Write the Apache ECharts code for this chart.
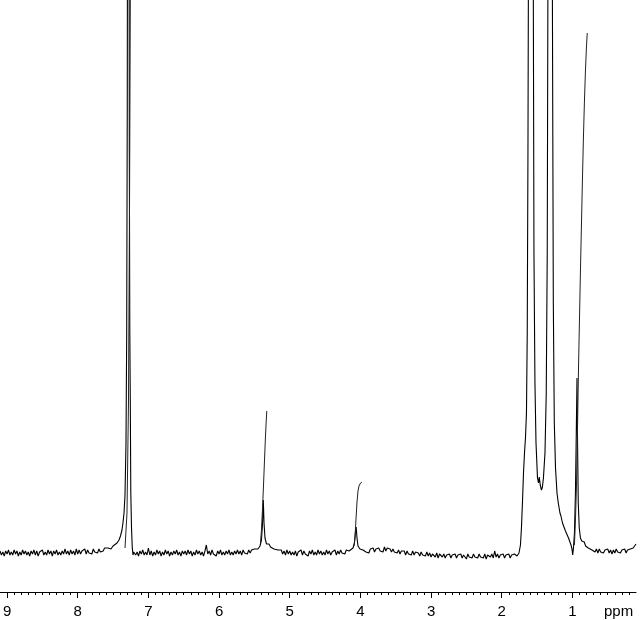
<!DOCTYPE html>
<html>
<head>
<meta charset="utf-8">
<script src="https://cdn.jsdelivr.net/npm/echarts@6/dist/echarts.min.js"></script>
<style>html,body{margin:0;padding:0;background:#fff;}#c{width:640px;height:620px;}</style>
</head>
<body>
<div id="c"></div>
<script>
// ---- data: intensity above baseline; baseline stretches sampled every 0.02 ppm ----
var baselineLeftStart = 9.10;   // ppm, step -0.02
var baselineLeft = [
  2,-2,1,-3,2,-1,3,-2,1,-2,
  3,-1,2,-3,1,-2,3,-1,2,-2,
  1,-3,2,-1,3,-2,2,-3,1,-1,
  3,-2,1,-2,3,-1,2,-3,2,-1,
  3,-2,1,-2,2,-1,4,-1,2,-2,
  3,-1,2,-2,4,-1,3,-1,2,0,
  4,-1,3,0,2,-1,4,1,3,0,
  4,1,3,2,5];
var peakCDCl3 = [[7.614,3],[7.572,5],[7.529,4],[7.501,7],[7.473,8],[7.444,10],[7.416,13],[7.395,17],[7.374,23],[7.360,30],[7.345,40],[7.331,58],[7.317,110],[7.307,220],[7.299,450],[7.292,900],[7.285,1500],[7.277,900],[7.270,400],[7.263,220],[7.256,150],[7.249,60],[7.239,25],[7.228,5],[7.218,-2],[7.208,1]];
var baselineMid1Start = 7.20;
var baselineMid1 = [
  2,-2,1,-3,2,-1,3,-2,1,-2,
  5,-2,2,-3,1,-2,3,-1,2,-3,
  1,-2,3,-1,2,-3,1,-2,2,-1,
  3,-2,1,-3,2,-1,2,-2,3,-1,
  2,-3,1,-2,3,-1,2,-2,1,-3,
  2,8,-1,2,-2,3,-1,1,-3,2,
  -1,3,-2,1,-2,2,-1,3,-2,1,
  -2,2,-1,3,-1,2,-2,3,0,2,
  -1,3,0,3,1,4];
var peakOlefin = [[5.492,2],[5.449,4],[5.421,7],[5.400,13],[5.386,28],[5.374,53],[5.364,30],[5.350,15],[5.329,9],[5.311,7],[5.294,9],[5.272,6],[5.251,7],[5.223,4],[5.195,6],[5.166,3],[5.138,4]];
var baselineMid2Start = 5.12;
var baselineMid2 = [
  3,-1,2,-2,3,-1,2,-2,1,-2,
  2,-3,1,-1,3,-2,2,-1,1,-3,
  2,-1,3,-2,1,-2,3,-1,2,-2,
  1,-2,3,-1,2,-2,1,-1,3,-2,
  2,-1,3,0,2,-1,3,1,2];
var peakOCH2 = [[4.147,2],[4.105,5],[4.084,10],[4.070,21],[4.060,26],[4.048,15],[4.034,7],[4.006,4],[3.985,2],[3.963,3]];
var baselineMid3Start = 3.94;
var baselineMid3 = [
  4,1,3,0,4,2,5,1,4,2,
  5,2,4,1,6,2,5,3,4,1,
  4,1,3,0,3,-1,2,0,2,-2,
  2,-1,1,-2,2,-2,1,-1,0,-3,
  1,-2,0,-3,1,-3,0,-4,-1,-2,
  -4,0,-5,-1,-3,-4,-1,-5,-2,-3,
  -1,-5,-2,-4,-1,-5,-2,-4,-1,-5,
  -2,-4,-6,-1,-4,-2,-5,-1,-4,-2,
  -5,-1,-4,-2,-5,-1,-6,-2,-3,-4,
  -1,-5,2,-4,-1,-5,-2,-4,-1,-5,
  -2,-4,-1,-5,-2,-3,-1,-3];
var peaksAliphatic = [[1.784,-3],[1.770,-1],[1.756,0],[1.735,8],[1.721,25],[1.707,50],[1.692,80],[1.678,100],[1.664,115],[1.650,140],[1.639,220],[1.629,400],[1.614,800],[1.600,2000],[1.586,3000],[1.572,2000],[1.558,700],[1.544,300],[1.530,170],[1.515,110],[1.494,75],[1.480,70],[1.469,76],[1.455,68],[1.438,63],[1.424,66],[1.410,75],[1.388,100],[1.370,160],[1.356,300],[1.342,700],[1.327,1800],[1.313,3000],[1.299,1800],[1.285,600],[1.270,250],[1.256,130],[1.239,85],[1.218,60],[1.200,50],[1.190,46],[1.176,40],[1.162,37],[1.140,30],[1.119,29],[1.098,22],[1.077,21],[1.055,15],[1.034,13],[1.020,8],[1.006,4],[0.996,-2],[0.985,5],[0.971,20],[0.957,60],[0.945,120],[0.935,175],[0.927,110],[0.917,50],[0.903,25],[0.886,15],[0.868,12],[0.851,10],[0.832,11],[0.813,7],[0.794,8],[0.775,5],[0.752,6],[0.723,3]];
var baselineRightStart = 0.70;
var baselineRight = [
  5,1,4,0,4,1,3,0,3,1,
  4,0,3,-1,3,0,4,1,3,0,
  3,1,4,0,3,1,4,2,5,6,
  9];

var integralCDCl3 = [[7.331,5],[7.303,40],[7.282,150],[7.267,350],[7.253,600]];
var integralOlefin = [[5.414,10],[5.400,23],[5.386,43],[5.371,68],[5.357,93],[5.343,117],[5.332,133],[5.325,142]];
var integralOCH2 = [[4.091,7],[4.077,15],[4.063,33],[4.048,51],[4.034,62],[4.020,67],[3.998,70],[3.978,71]];
var integralMethyl = [[0.971,8],[0.957,33],[0.942,68],[0.928,123],[0.914,183],[0.900,233],[0.886,283],[0.872,328],[0.858,373],[0.843,418],[0.829,453],[0.815,483],[0.801,506],[0.790,520]];

var majorTicks = [1,2,3,4,5,6,7,8,9];
var minorTicks = [0.2,0.3,0.4,0.5,0.6,0.7,0.8,0.9,1.0,1.1,1.2,1.3,1.4,1.5,1.6,1.7,1.8,1.9,2.0,2.1,2.2,2.3,2.4,2.5,2.6,2.7,2.8,2.9,3.0,3.1,3.2,3.3,3.4,3.5,3.6,3.7,3.8,3.9,4.0,4.1,4.2,4.3,4.4,4.5,4.6,4.7,4.8,4.9,5.0,5.1,5.2,5.3,5.4,5.5,5.6,5.7,5.8,5.9,6.0,6.1,6.2,6.3,6.4,6.5,6.6,6.7,6.8,6.9,7.0,7.1,7.2,7.3,7.4,7.5,7.6,7.7,7.8,7.9,8.0,8.1,8.2,8.3,8.4,8.5,8.6,8.7,8.8,8.9,9.0];
var unitLabel = 'ppm';

function sampled(start, values) {
  return values.map(function (v, i) { return [+(start - 0.02 * i).toFixed(3), v]; });
}
var spectrum = [].concat(
  sampled(baselineLeftStart, baselineLeft), peakCDCl3,
  sampled(baselineMid1Start, baselineMid1), peakOlefin,
  sampled(baselineMid2Start, baselineMid2), peakOCH2,
  sampled(baselineMid3Start, baselineMid3), peaksAliphatic,
  sampled(baselineRightStart, baselineRight));

var chart = echarts.init(document.getElementById('c'), null, {renderer: 'canvas'});
var fontFam = 'Liberation Sans, Arial, sans-serif';
var axisBase = {type: 'value', min: 0.1, max: 9.1, inverse: true, position: 'bottom', splitLine: {show: false}};
function lineSeries(data, color, width) {
  return {type: 'line', data: data, showSymbol: false, symbol: 'none', clip: true, animation: false,
          lineStyle: {color: color, width: width}, silent: true};
}
chart.setOption({
  animation: false,
  backgroundColor: '#fff',
  grid: {left: 0, right: 4, top: 0, bottom: 28, containLabel: false, outerBoundsMode: 'none'},
  xAxis: [
    Object.assign({}, axisBase, {
      axisLine: {show: true, onZero: false, lineStyle: {color: '#000', width: 1}},
      axisTick: {show: true, length: 3, customValues: minorTicks, lineStyle: {color: '#000', width: 1}},
      axisLabel: {show: false}
    }),
    Object.assign({}, axisBase, {
      axisLine: {show: false, onZero: false},
      axisTick: {show: true, length: 6, customValues: majorTicks, lineStyle: {color: '#000', width: 1}},
      axisLabel: {show: true, customValues: majorTicks, margin: 12, color: '#000', fontSize: 15, fontFamily: fontFam}
    })
  ],
  yAxis: {type: 'value', min: -39, max: 553, show: false},
  graphic: [{type: 'text', left: 604, top: 604,
             style: {text: unitLabel, fill: '#000', fontSize: 15, fontFamily: fontFam}}],
  series: [
    lineSeries(spectrum, '#000', 1.1),
    lineSeries(integralCDCl3, '#222', 1),
    lineSeries(integralOlefin, '#222', 1),
    lineSeries(integralOCH2, '#222', 1),
    lineSeries(integralMethyl, '#222', 1)
  ]
});
</script>
</body>
</html>
